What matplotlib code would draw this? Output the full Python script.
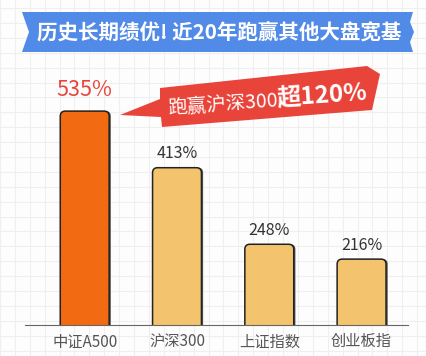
import numpy as np
import matplotlib
matplotlib.use('Agg')
import matplotlib.pyplot as plt
from matplotlib.patches import Polygon, FancyBboxPatch

plt.rcParams['font.family'] = ['Noto Sans CJK SC', 'DejaVu Sans']

# 数据
categorias = ['中证A500', '沪深300', '上证指数', '创业板指']
valores = [535, 413, 248, 216]
etiquetas = ['535%', '413%', '248%', '216%']
titulo = '历史长期绩优! 近20年跑赢其他大盘宽基'
nota_1 = '跑赢沪深300'
nota_2 = '超120%'

W, H = 427, 356
fig = plt.figure(figsize=(W / 100, H / 100), dpi=100)
fig.patch.set_facecolor('#FDFDFD')

# Fondo en coordenadas de pixel (y hacia abajo)
fondo = fig.add_axes([0, 0, 1, 1], zorder=0)
fondo.set_xlim(0, W)
fondo.set_ylim(H, 0)
fondo.axis('off')

paso = 14.9
for gx in np.arange(0, W, paso):
    fondo.axvline(gx, color='#EFEFEF', lw=0.8, zorder=0)
for gy in np.arange(8, H, paso):
    fondo.axhline(gy, color='#EFEFEF', lw=0.8, zorder=0)

# Cinta azul del titulo
cinta = [(22, 12), (413, 12), (410, 22), (414, 32), (410, 42), (413, 52),
         (22, 52), (29, 32)]
fondo.add_patch(Polygon(cinta, closed=True, facecolor='#528AE8',
                        edgecolor='none', zorder=2))
fondo.text(219, 33, titulo, color='white', fontsize=14.8, fontweight='heavy',
           ha='center', va='center', zorder=3)

# Bocadillo rojo
bocadillo = [(120, 115), (160, 99), (160, 88), (367, 66), (380, 74),
             (372, 110), (162, 127), (161, 117)]
fondo.add_patch(Polygon(bocadillo, closed=True, facecolor='#E8443A',
                        edgecolor='none', zorder=2))
ang = 4.0
x0, y0 = 168, 114
fondo.text(x0, y0, nota_1, color='white', fontsize=14, rotation=ang,
           rotation_mode='anchor', ha='left', va='baseline', zorder=3)
d = 110
fondo.text(x0 + d * np.cos(np.radians(ang)), y0 - d * np.sin(np.radians(ang)),
           nota_2, color='white', fontsize=17.5, fontweight='bold',
           rotation=ang, rotation_mode='anchor', ha='left', va='baseline',
           zorder=3)

# Barras
ax = fig.add_axes([25 / W, 31 / H, 383 / W, 255 / H], zorder=1)
ax.patch.set_alpha(0)
px_x = 92.3
px_y = 0.464
ax.set_xlim(-0.647, 3.503)
ax.set_ylim(74, 74 + 255 / px_y)

colores = ['#F26A12', '#F3C46D', '#F3C46D', '#F3C46D']
x = np.arange(len(categorias))
barras = ax.bar(x, valores, width=0.53, color=colores)
for r, c in zip(barras, colores):
    bx, by, bw, bh = r.get_x(), r.get_y(), r.get_width(), r.get_height()
    r.remove()
    sombra = FancyBboxPatch((bx + 0.018, by), bw, bh,
                            boxstyle='round,pad=0,rounding_size=0.055',
                            mutation_aspect=px_x / px_y,
                            facecolor='#555555', edgecolor='none', zorder=2)
    ax.add_patch(sombra)
    caja = FancyBboxPatch((bx, by), bw, bh,
                          boxstyle='round,pad=0,rounding_size=0.055',
                          mutation_aspect=px_x / px_y,
                          facecolor=c, edgecolor='#222222', lw=1.1, zorder=3)
    ax.add_patch(caja)

for i, (v, t) in enumerate(zip(valores, etiquetas)):
    if i == 0:
        ax.annotate(t, (i, v), xytext=(0, 15), textcoords='offset points',
                    ha='center', va='center', fontsize=15.5, color='#E8443A',
                    fontweight='medium')
    else:
        ax.annotate(t, (i, v), xytext=(0, 10), textcoords='offset points',
                    ha='center', va='center', fontsize=11.5, color='#333333')

ax.set_xticks(x)
ax.set_xticklabels(categorias, fontsize=11, color='#555555')
ax.tick_params(axis='x', length=0, pad=6)
ax.set_yticks([])
for s in ['top', 'right', 'left']:
    ax.spines[s].set_visible(False)
ax.spines['bottom'].set_color('#666666')
ax.spines['bottom'].set_linewidth(0.8)
ax.spines['bottom'].set_zorder(4)

fig.savefig('out.png', dpi=100, facecolor=fig.get_facecolor())
